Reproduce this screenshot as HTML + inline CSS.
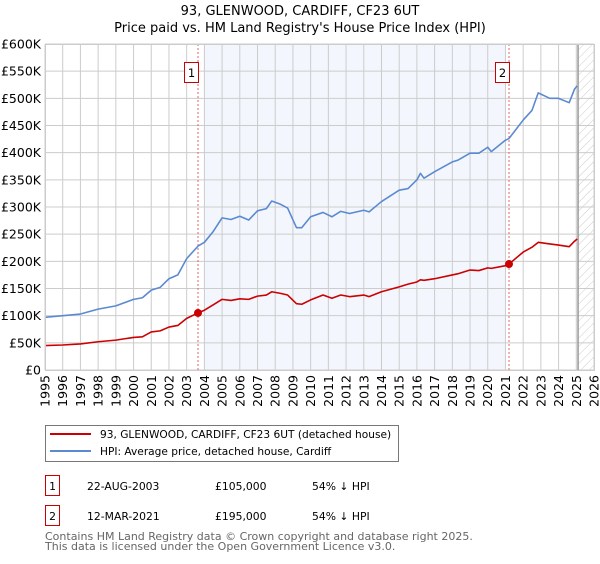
<!DOCTYPE html>
<html><head><meta charset="utf-8"><style>
body{margin:0;background:#fff;width:600px;height:560px;overflow:hidden;font-family:"DejaVu Sans","Liberation Sans",sans-serif}
svg text{font-family:"DejaVu Sans","Liberation Sans",sans-serif}
</style></head><body>
<svg id="chart" width="600" height="560" xmlns="http://www.w3.org/2000/svg">
<defs><pattern id="hatch" width="6" height="6" patternUnits="userSpaceOnUse" patternTransform="rotate(45)"><line x1="0" y1="0" x2="0" y2="6" stroke="#ccc" stroke-width="1"/></pattern></defs>
<text x="300" y="15" text-anchor="middle" font-size="13">93, GLENWOOD, CARDIFF, CF23 6UT</text>
<text x="300" y="32" text-anchor="middle" font-size="13">Price paid vs. HM Land Registry's House Price Index (HPI)</text>
<g id="plot"></g>
<g>
<rect x="45.5" y="425.5" width="353" height="36" fill="#fff" stroke="#777"/>
<line x1="50" y1="434" x2="91" y2="434" stroke="#cc0000" stroke-width="2"/>
<text x="100" y="438" font-size="10.6">93, GLENWOOD, CARDIFF, CF23 6UT (detached house)</text>
<line x1="50" y1="451" x2="91" y2="451" stroke="#5b8ad1" stroke-width="2"/>
<text x="100" y="455" font-size="10.6">HPI: Average price, detached house, Cardiff</text>
</g>
<g font-size="10.8">
<rect x="45.5" y="475.5" width="14" height="20" fill="#fff" stroke="#cc0000"/>
<text x="52.5" y="490" text-anchor="middle">1</text>
<text x="87" y="490">22-AUG-2003</text><text x="215" y="490">£105,000</text><text x="312" y="490">54% ↓ HPI</text>
<rect x="45.5" y="505.5" width="14" height="20" fill="#fff" stroke="#cc0000"/>
<text x="52.5" y="520" text-anchor="middle">2</text>
<text x="87" y="520">12-MAR-2021</text><text x="215" y="520">£195,000</text><text x="312" y="520">54% ↓ HPI</text>
</g>
<text x="45" y="540" font-size="11" fill="#666">Contains HM Land Registry data © Crown copyright and database right 2025.</text>
<text x="45" y="550" font-size="11" fill="#666">This data is licensed under the Open Government Licence v3.0.</text>
</svg>
<script>
const years=[1995,1996,1997,1998,1999,2000,2000.5,2001,2001.5,2002,2002.5,2003,2003.64,2004,2004.5,2005,2005.5,2006,2006.5,2007,2007.5,2007.8,2008.3,2008.7,2009.2,2009.5,2010,2010.7,2011.2,2011.7,2012.2,2013,2013.3,2014,2015,2015.5,2016,2016.2,2016.4,2017,2018,2018.3,2019,2019.5,2020,2020.2,2021,2021.2,2022,2022.5,2022.85,2023.5,2024,2024.6,2024.9,2025.05];
const hpiValues=[97,100,103,112,118,130,133,147,152,168,175,205,228,235,255,280,277,283,276,293,297,311,305,298,262,262,282,290,282,292,288,294,291,310,331,334,350,362,353,365,383,386,399,399,410,402,423,426,460,478,510,500,500,492,517,523];
const priceValues=[45,46,48,52,55,60,61,70,72,79,82,95,105,110,120,130,128,131,130,136,138,144,141,138,122,121,129,138,132,138,135,138,135,144,153,158,162,166,165,168,175,177,184,183,188,187,192,195,217,226,235,232,230,227,237,241];
const yTicks=[0,50,100,150,200,250,300,350,400,450,500,550,600];
const yTickLabels=["£0","£50K","£100K","£150K","£200K","£250K","£300K","£350K","£400K","£450K","£500K","£550K","£600K"];
const xTicks=[1995,1996,1997,1998,1999,2000,2001,2002,2003,2004,2005,2006,2007,2008,2009,2010,2011,2012,2013,2014,2015,2016,2017,2018,2019,2020,2021,2022,2023,2024,2025,2026];
const sales=[{n:"1",t:2003.64,v:105},{n:"2",t:2021.2,v:195}];
const shadeRange=[2004,2021];
const dataEnd=2025.1;
const X0=45,X1=594,Y0=370,Y1=44;
const xs=y=>X0+(y-1995)/(2026-1995)*(X1-X0);
const ys=v=>Y0-v/600*(Y0-Y1);
const NS="http://www.w3.org/2000/svg";
const g=document.getElementById('plot');
function mk(tag,attrs){const e=document.createElementNS(NS,tag);for(const k in attrs)e.setAttribute(k,attrs[k]);g.appendChild(e);return e;}
let r=mk('rect',{x:xs(shadeRange[0]),y:Y1,width:xs(shadeRange[1])-xs(shadeRange[0]),height:Y0-Y1,fill:'#eef3fc',opacity:0.7});


r=mk('rect',{x:xs(dataEnd),y:Y1,width:X1-xs(dataEnd),height:Y0-Y1,fill:'url(#hatch)'});


yTicks.forEach((v,i)=>{
 const l=mk('line',{x1:X0,x2:X1,y1:ys(v),y2:ys(v),stroke:'#ccc','stroke-width':1});
 
 
 const t=mk('text',{x:X0-4,y:ys(v)+4.5,'text-anchor':'end','font-size':12.5});
 t.textContent=yTickLabels[i];
 
 
});
xTicks.forEach(yr=>{
 const l=mk('line',{x1:xs(yr),x2:xs(yr),y1:Y1,y2:Y0,stroke:'#ccc','stroke-width':1});
 
 
 const t=mk('text',{x:0,y:0,'text-anchor':'end','font-size':12.5,transform:`translate(${xs(yr)+4.5},${Y0+5}) rotate(-90)`});
 t.textContent=yr;
 
 
});
let b=mk('line',{x1:xs(dataEnd),x2:xs(dataEnd),y1:Y1,y2:Y0,stroke:'#999','stroke-width':1.5});


sales.forEach(s=>{
 const l=mk('line',{x1:xs(s.t),x2:xs(s.t),y1:Y1,y2:Y0,stroke:'#e06666','stroke-width':1,'stroke-dasharray':'2,2'});
 
 
});
function line(vals,color,name){
 const p=mk('polyline',{points:years.map((y,i)=>xs(y)+','+ys(vals[i])).join(' '),fill:'none',stroke:color,'stroke-width':1.6,'stroke-linejoin':'round'});
 
 
}
line(hpiValues,'#5b8ad1','hpi-line');
line(priceValues,'#cc0000','price-line');
sales.forEach(s=>{
 const c=mk('circle',{cx:xs(s.t),cy:ys(s.v),r:4,fill:'#cc0000'});
 
 
 const bx=mk('rect',{x:xs(s.t)-13.5,y:62.5,width:14,height:20,fill:'#fff',stroke:'#cc0000'});
 
 
 const t=mk('text',{x:xs(s.t)-6.5,y:77,'text-anchor':'middle','font-size':11.5});
 t.textContent=s.n;
 
 
});
const f=mk('rect',{x:X0+0.5,y:Y1+0.5,width:X1-X0,height:Y0-Y1,fill:'none',stroke:'#ccc'});


</script>
</body></html>
